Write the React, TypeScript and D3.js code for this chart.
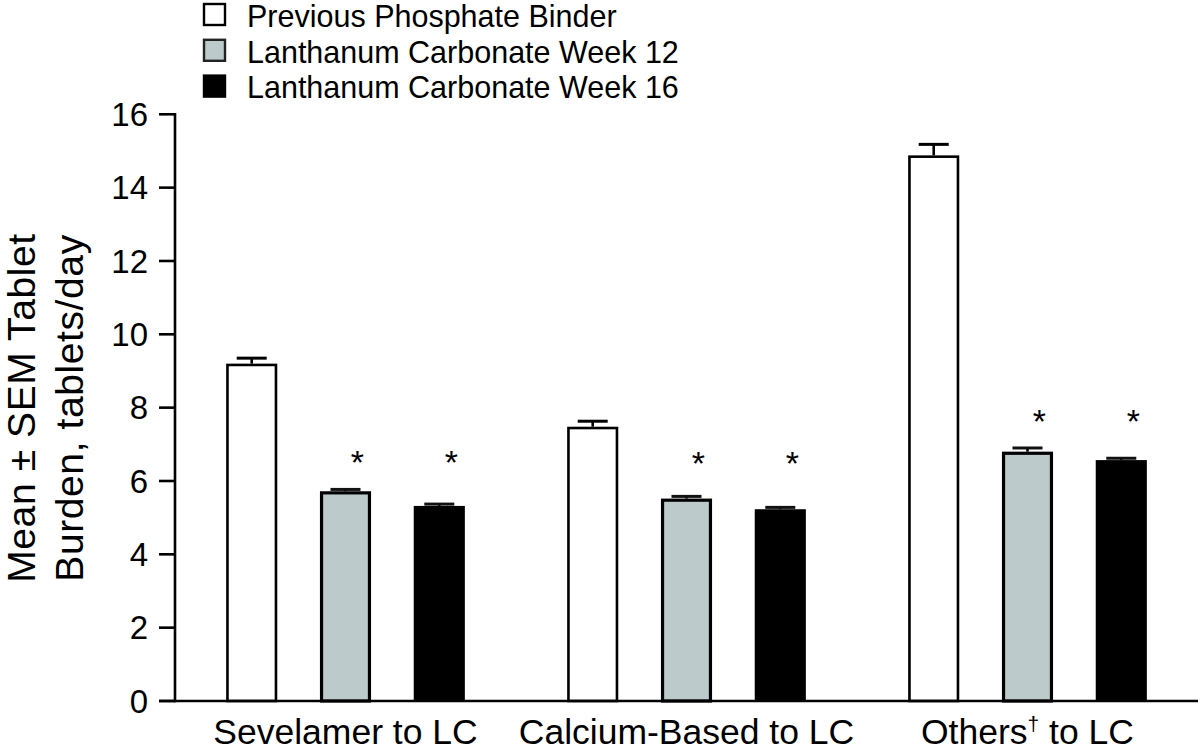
import React from "react";
import * as d3 from "d3";

const groups = ["Sevelamer to LC", "Calcium-Based to LC", "Others† to LC"];
const seriesKeys = ["prev", "wk12", "wk16"];
const seriesLabels = [
  "Previous Phosphate Binder",
  "Lanthanum Carbonate Week 12",
  "Lanthanum Carbonate Week 16",
];
const prevMeans = [9.2, 7.48, 14.88];
const prevSem = [0.15, 0.15, 0.3];
const wk12Means = [5.72, 5.52, 6.8];
const wk12Sem = [0.05, 0.06, 0.1];
const wk16Means = [5.32, 5.23, 6.57];
const wk16Sem = [0.05, 0.05, 0.05];
const starLevels = [6.7, 6.68, 7.82];
const starred = [false, true, true];
const yTicks = [0, 2, 4, 6, 8, 10, 12, 14, 16];
const yTitleLines = ["Mean ± SEM Tablet", "Burden, tablets/day"];

const W = 1200;
const H = 756;
const FONT = "Arial, 'Liberation Sans', Helvetica, sans-serif";

const fills = ["#ffffff", "#bdcacb", "#000000"];
const strokeW = [2.6, 3.2, 0];

export default function App() {
  const means = [prevMeans, wk12Means, wk16Means];
  const sems = [prevSem, wk12Sem, wk16Sem];

  const x0 = d3
    .scaleBand<string>()
    .domain(groups)
    .range([175, 1198])
    .paddingInner(0.3)
    .paddingOuter(0.15);
  const x1 = d3
    .scaleBand<string>()
    .domain(seriesKeys)
    .range([0, x0.bandwidth()])
    .paddingInner(0.455)
    .paddingOuter(0);
  const y = d3.scaleLinear().domain([0, 16]).range([701, 114.3]);

  const bw = x1.bandwidth();
  const axisX = x0.range()[0];
  const axisY = y(0);

  return (
    <svg
      width={W}
      height={H}
      style={{ position: "absolute", left: 0, top: 0, background: "#fff" }}
      fontFamily={FONT}
    >
      <rect x={0} y={0} width={W} height={H} fill="#fff" />
      {/* Legend */}
      {seriesLabels.map((lab, i) => (
        <g key={lab} transform={`translate(0, ${i * 35.8})`}>
          <rect
            x={204}
            y={4}
            width={21}
            height={21}
            fill={fills[i]}
            stroke={i === 1 ? "#222" : "#000"}
            strokeWidth={2.4}
          />
          <text x={247} y={26.8} fontSize={30.5} fill="#000">
            {lab}
          </text>
        </g>
      ))}

      {/* Bars */}
      {groups.map((g, gi) => (
        <g key={g} transform={`translate(${x0(g)},0)`}>
          {seriesKeys.map((k, si) => {
            const v = means[si][gi];
            const e = sems[si][gi];
            const bx = x1(k)!;
            const sw = strokeW[si];
            const cx = bx + bw / 2;
            return (
              <g key={k}>
                <line
                  x1={cx}
                  x2={cx}
                  y1={y(v)}
                  y2={y(v + e)}
                  stroke="#000"
                  strokeWidth={2.6}
                />
                <line
                  x1={cx - 15}
                  x2={cx + 15}
                  y1={y(v + e)}
                  y2={y(v + e)}
                  stroke={si === 0 ? "#000" : "#111"}
                  strokeWidth={3}
                />
                <rect
                  x={bx + sw / 2}
                  y={y(v) + sw / 2}
                  width={bw - sw}
                  height={axisY - y(v) - sw / 2}
                  fill={fills[si]}
                  stroke={sw > 0 ? "#000" : "none"}
                  strokeWidth={sw}
                />
                {si > 0 && starred[si] && (
                  <text
                    x={cx + 12}
                    y={y(starLevels[gi]) + 19}
                    fontSize={34}
                    textAnchor="middle"
                    fill="#000"
                  >
                    *
                  </text>
                )}
              </g>
            );
          })}
          <text
            x={x0.bandwidth() / 2}
            y={744}
            fontSize={35.5}
            textAnchor="middle"
            fill="#000"
          >
            {g.includes("†") ? (
              <>
                {g.split("†")[0]}
                <tspan fontSize={21} dy={-13}>
                  †
                </tspan>
                <tspan dy={13}>{g.split("†")[1]}</tspan>
              </>
            ) : (
              g
            )}
          </text>
        </g>
      ))}

      {/* Y axis */}
      <line
        x1={axisX}
        x2={axisX}
        y1={y(16) - 1.3}
        y2={axisY + 1.3}
        stroke="#000"
        strokeWidth={2.6}
      />
      {yTicks.map((t) => (
        <g key={t}>
          <line
            x1={159}
            x2={axisX}
            y1={y(t)}
            y2={y(t)}
            stroke="#000"
            strokeWidth={2.6}
          />
          <text
            x={148}
            y={y(t) + 11.8}
            fontSize={33}
            textAnchor="end"
            fill="#000"
          >
            {t}
          </text>
        </g>
      ))}
      {/* X axis */}
      <line
        x1={159}
        x2={x0.range()[1]}
        y1={axisY}
        y2={axisY}
        stroke="#000"
        strokeWidth={2.6}
      />

      {/* Y title */}
      {yTitleLines.map((l, i) => (
        <text
          key={l}
          transform={`translate(${35 + i * 47.5}, 408) rotate(-90)`}
          fontSize={39}
          letterSpacing={0.6}
          textAnchor="middle"
          fill="#000"
        >
          {l}
        </text>
      ))}
    </svg>
  );
}
